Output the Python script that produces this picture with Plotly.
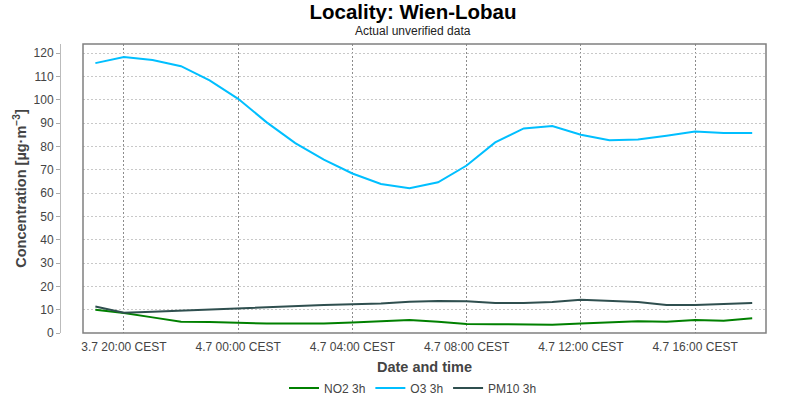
import plotly.graph_objects as go
import pandas as pd

times = pd.date_range("2024-07-03 19:00", "2024-07-04 18:00", freq="h")

no2 = [10.0, 8.6, 6.7, 4.8, 4.7, 4.3, 4.1, 4.1, 4.1, 4.5, 5.0, 5.6, 4.8, 3.9,
       3.8, 3.5, 3.5, 4.1, 4.5, 5.0, 4.8, 5.6, 5.3, 6.3]
o3 = [115.7, 118.3, 117.0, 114.4, 108.3, 100.4, 90.3, 81.4, 74.3, 68.4, 63.9,
      62.1, 64.6, 71.8, 81.7, 87.7, 88.7, 85.0, 82.6, 83.0, 84.6, 86.4, 85.7, 85.7]
pm10 = [11.4, 8.7, 9.1, 9.6, 10.0, 10.7, 11.3, 11.8, 12.0, 12.3, 12.6, 13.4,
        13.7, 13.6, 12.9, 12.9, 13.3, 14.3, 13.9, 13.3, 12.0, 12.0, 12.4, 12.9]

series_names = ["NO2 3h", "O3 3h", "PM10 3h"]
series_values = [no2, o3, pm10]
colors = ["#008000", "#00BFFF", "#2F4F4F"]

FONT = "Liberation Sans, Arial, sans-serif"

fig = go.Figure()
for name, vals, col in zip(series_names, series_values, colors):
    fig.add_trace(go.Scatter(x=times, y=vals, name=name, mode="lines",
                             line=dict(color=col, width=2)))

W, H = 800, 400
ml, mr, mt, mb = 60, 34, 44, 67
plot_w = W - ml - mr
plot_h = H - mt - mb
x_dom0 = (83 - ml) / plot_w


def py(pix_y):
    return (H - mb - pix_y) / plot_h


fig.update_layout(
    width=W, height=H,
    margin=dict(l=ml, r=mr, t=mt, b=mb, pad=0, autoexpand=False),
    paper_bgcolor="white", plot_bgcolor="white",
    font=dict(family=FONT, size=12, color="#444444"),
    title=dict(
        text="<b>Locality: Wien-Lobau</b>",
        x=0.5, xref="paper", xanchor="center",
        y=1 - 12 / H, yref="container", yanchor="middle",
        font=dict(family=FONT, size=20.5, color="black"),
        automargin=False,
    ),
    showlegend=True,
    legend=dict(orientation="h", x=0.5, xref="paper", xanchor="center",
                y=py(388), yref="paper", yanchor="middle",
                font=dict(family=FONT, size=12, color="#444444"),
                itemwidth=30, tracegroupgap=0, itemclick=False),
    xaxis=dict(
        domain=[x_dom0, 1],
        automargin=False,
        type="date",
        range=["2024-07-03 18:34", "2024-07-04 18:29"],
        tick0="2024-07-03 20:00", dtick=4 * 3600 * 1000,
        tickformat="%-d.%-m %H:%M CEST",
        ticks="outside", ticklen=3, tickcolor="rgba(0,0,0,0)",
        tickfont=dict(family=FONT, size=12, color="#444444"),
        showgrid=True, gridcolor="#8c8c8c", griddash="2px,2px", gridwidth=1,
        showline=False, zeroline=False,
        title=dict(text="<b>Date and time</b>", standoff=8,
                   font=dict(family=FONT, size=14.5, color="#444444")),
    ),
    yaxis=dict(
        anchor="free", position=0,
        automargin=False,
        range=[0, 123.9],
        tick0=0, dtick=10,
        ticks="outside", ticklen=4, tickcolor="#aaaaaa",
        tickfont=dict(family=FONT, size=12, color="#444444"),
        showline=True, linecolor="#bbbbbb", linewidth=1,
        showgrid=True, gridcolor="#c8c8c8", griddash="2px,2px", gridwidth=1,
        zeroline=False,
        title=dict(text="<b>Concentration [µg·m<sup>−3</sup>]</b>", standoff=2,
                   font=dict(family=FONT, size=14.5, color="#444444")),
    ),
)

fig.add_annotation(text="Actual unverified data", x=0.5, xref="paper",
                   y=py(31), yref="paper", yanchor="middle",
                   showarrow=False, font=dict(family=FONT, size=12, color="#222222"))

fig.add_shape(type="rect", xref="x domain", yref="y domain", x0=0, x1=1, y0=0, y1=1,
              line=dict(color="#808080", width=1.5), fillcolor="rgba(0,0,0,0)", layer="above")

fig.write_html("out.html", config={"displayModeBar": False},
               post_script="document.body.style.margin='0px';")
